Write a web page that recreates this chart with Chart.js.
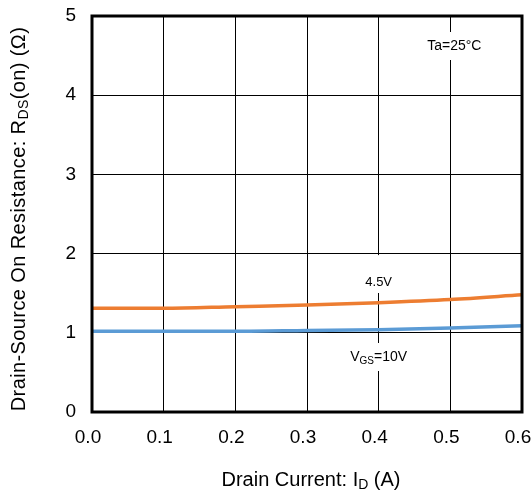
<!DOCTYPE html>
<html><head><meta charset="utf-8">
<script src="https://cdn.jsdelivr.net/npm/chart.js@4"></script>
<style>html,body{margin:0;padding:0;background:#fff}#wrap{width:532px;height:493px}</style>
</head><body><div id="wrap"><canvas id="c" width="532" height="493"></canvas></div>
<script>
const currentA = [0.0, 0.1, 0.2, 0.3, 0.4, 0.5, 0.6];
const rds45V = [1.31, 1.31, 1.33, 1.35, 1.38, 1.42, 1.48];
const rds10V = [1.02, 1.02, 1.02, 1.03, 1.04, 1.06, 1.09];
const xTicks = [0.0, 0.1, 0.2, 0.3, 0.4, 0.5, 0.6];
const yTicks = [0, 1, 2, 3, 4, 5];
const FONT = "'Liberation Sans', Arial, sans-serif";

function pts(ys){ return currentA.map((x,i)=>({x:x,y:ys[i]})); }

const annot = {
  id:'annot',
  afterDatasetsDraw(chart){
    const ctx = chart.ctx, xs = chart.scales.x, ys = chart.scales.y;
    ctx.save();
    function box(x0,y0,x1,y1){ ctx.fillStyle='#fff'; ctx.fillRect(x0,y0,x1-x0,y1-y0); }
    const cx = xs.getPixelForValue(0.4);
    box(cx-22, ys.getPixelForValue(2)+1.5, cx+22, 293);
    box(cx-32, 343, cx+32, 371);
    const tx = xs.getPixelForValue(0.5);
    box(tx-32, 32, tx+36, 60);
    ctx.fillStyle='#000'; ctx.textBaseline='middle';
    ctx.font = '13px '+FONT; ctx.textAlign='center';
    ctx.fillText('4.5V', cx, 282);
    ctx.font = '14px '+FONT;
    ctx.fillText('Ta=25°C', tx+4, 46);
    ctx.textAlign='left';
    const s1='V', s2='GS', s3='=10V';
    ctx.font='14px '+FONT; const w1=ctx.measureText(s1).width, w3=ctx.measureText(s3).width;
    ctx.font='10px '+FONT; const w2=ctx.measureText(s2).width;
    let x0 = cx - (w1+w2+w3)/2;
    ctx.font='14px '+FONT; ctx.fillText(s1,x0,357);
    ctx.font='10px '+FONT; ctx.fillText(s2,x0+w1,361);
    ctx.font='14px '+FONT; ctx.fillText(s3,x0+w1+w2,357);
    ctx.restore();
  },
  afterDraw(chart){
    const ctx = chart.ctx, a = chart.chartArea;
    ctx.save();
    ctx.strokeStyle='#000'; ctx.lineWidth=3;
    ctx.strokeRect(a.left, a.top, a.right-a.left, a.bottom-a.top);
    ctx.fillStyle='#000'; ctx.textBaseline='middle';
    const parts=[['Drain Current: I',20,0],['D',14,5],[' (A)',20,0]];
    let tot=0; parts.forEach(p=>{ctx.font=p[1]+'px '+FONT; tot+=ctx.measureText(p[0]).width;});
    let x=(a.left+a.right)/2 - tot/2 + 4; ctx.textAlign='left';
    parts.forEach(p=>{ctx.font=p[1]+'px '+FONT; ctx.fillText(p[0],x,480+p[2]); x+=ctx.measureText(p[0]).width;});
    ctx.translate(19, 219); ctx.rotate(-Math.PI/2);
    if ('letterSpacing' in ctx) ctx.letterSpacing = '0.4px';
    const yp=[['Drain-Source On Resistance: R',20,0],['DS',14,5],['(on) (Ω)',20,0]];
    tot=0; yp.forEach(p=>{ctx.font=p[1]+'px '+FONT; tot+=ctx.measureText(p[0]).width;});
    x=-tot/2;
    yp.forEach(p=>{ctx.font=p[1]+'px '+FONT; ctx.fillText(p[0],x,p[2]); x+=ctx.measureText(p[0]).width;});
    ctx.restore();
  }
};

new Chart(document.getElementById('c'), {
  type:'scatter',
  data:{datasets:[
    {label:'4.5V', data:pts(rds45V), showLine:true, borderColor:'#ED7D31', borderWidth:3.5, pointRadius:0, tension:0.4, cubicInterpolationMode:'monotone'},
    {label:'VGS=10V', data:pts(rds10V), showLine:true, borderColor:'#5B9BD5', borderWidth:3.5, pointRadius:0, tension:0.4, cubicInterpolationMode:'monotone'}
  ]},
  options:{
    responsive:false, animation:false, devicePixelRatio:1,
    layout:{padding:{left:0,right:10,top:16,bottom:0}},
    plugins:{legend:{display:false}, tooltip:{enabled:false}},
    scales:{
      x:{type:'linear', min:0, max:0.6,
        afterBuildTicks(s){ s.ticks = xTicks.map(v=>({value:v})); },
        afterFit(s){ s.height = 81; s.paddingLeft = 0; s.paddingRight = 0; },
        ticks:{color:'#000', font:{size:19, family:FONT}, padding:14, labelOffset:-4, maxRotation:0, callback:v=>v.toFixed(1)},
        grid:{color:'#000', lineWidth:1, drawTicks:false},
        border:{display:false}
      },
      y:{type:'linear', min:0, max:5,
        afterBuildTicks(s){ s.ticks = yTicks.map(v=>({value:v})); },
        afterFit(s){ s.width = 92; s.paddingTop = 0; s.paddingBottom = 0; },
        ticks:{color:'#000', font:{size:19, family:FONT}, padding:16, callback:v=>String(v)},
        grid:{color:'#000', lineWidth:1, drawTicks:false},
        border:{display:false}
      }
    }
  },
  plugins:[annot]
});
</script></body></html>
